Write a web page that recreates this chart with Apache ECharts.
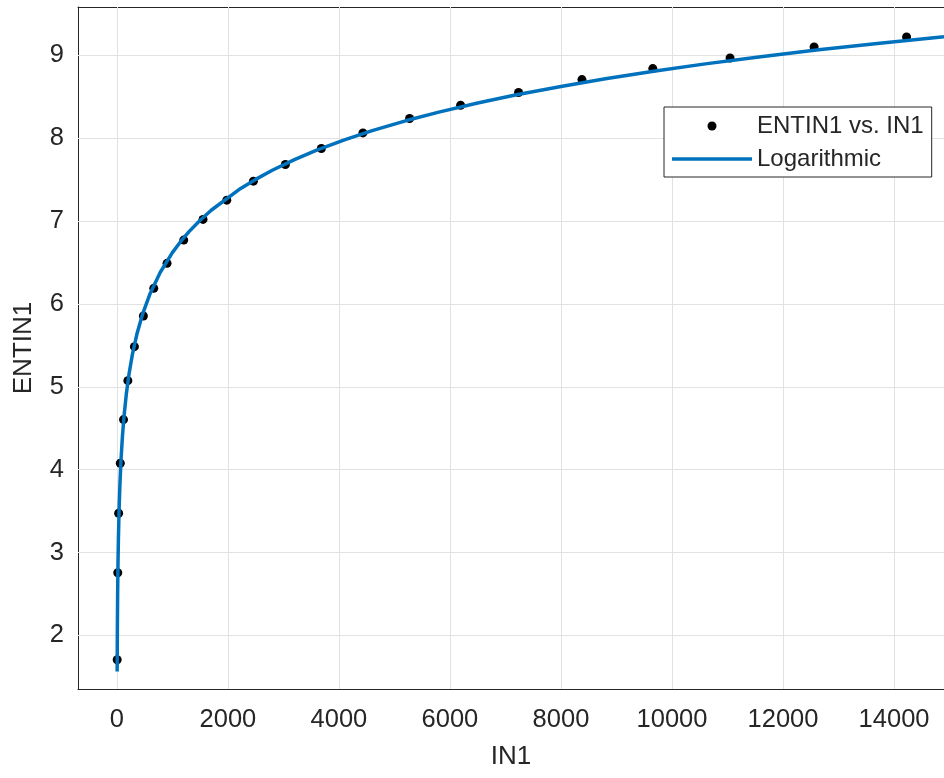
<!DOCTYPE html>
<html><head><meta charset="utf-8">
<script src="https://cdn.jsdelivr.net/npm/echarts@6/dist/echarts.min.js"></script>
<style>html,body{margin:0;padding:0;background:#fff}#c{width:944px;height:778px}</style>
</head><body><div id="c"></div>
<script>
// Data
const inX = [6, 16, 32, 62, 120, 198, 316, 478, 665, 904, 1205, 1552, 1980, 2460, 3036, 3684, 4432, 5273, 6192, 7236, 8378, 9654, 11046, 12560, 14226];
const entin1 = [1.707, 2.756, 3.475, 4.078, 4.604, 5.074, 5.484, 5.854, 6.188, 6.489, 6.770, 7.019, 7.252, 7.481, 7.682, 7.875, 8.063, 8.237, 8.397, 8.550, 8.706, 8.839, 8.967, 9.100, 9.220];
// Logarithmic fit curve
const fitX = [5.3, 7, 10, 14, 20, 28, 40, 55, 75, 100, 130, 170, 220, 280, 360, 460, 600, 780, 1000, 1150, 1300, 1500, 1700, 2200, 2500, 2800, 3200, 3600, 4100, 4600, 5200, 5800, 6500, 7200, 8000, 8800, 9700, 10600, 11600, 12600, 13700, 14900];
const fitY = [1.564, 1.833, 2.177, 2.501, 2.845, 3.170, 3.514, 3.821, 4.120, 4.398, 4.651, 4.909, 5.158, 5.391, 5.633, 5.870, 6.126, 6.379, 6.619, 6.753, 6.872, 7.010, 7.130, 7.379, 7.502, 7.612, 7.740, 7.854, 7.979, 8.090, 8.209, 8.314, 8.424, 8.523, 8.624, 8.716, 8.810, 8.896, 8.983, 9.062, 9.143, 9.224];
const xTicks = [0, 2000, 4000, 6000, 8000, 10000, 12000, 14000];
const yTicks = [2, 3, 4, 5, 6, 7, 8, 9];
const xLim = [-700, 14900];
const yLim = [1.354, 9.582];

const FONT = 'Liberation Sans, Arial, Helvetica, sans-serif';
const TXT = '#262626';
const GRIDC = '#e2e2e2';
const BLUE = '#0072BD';

const chart = echarts.init(document.getElementById('c'), null, {renderer: 'canvas'});

function frameAxis(pos, ticks, lim) {
  return {
    type: 'value', position: pos, min: lim[0], max: lim[1],
    axisLine: {show: true, onZero: false, lineStyle: {color: TXT, width: 1}},
    axisTick: {show: true, inside: true, length: 8, customValues: ticks, lineStyle: {color: TXT, width: 1}},
    axisLabel: {show: false},
    splitLine: {show: false}
  };
}

const option = {
  animation: false,
  backgroundColor: '#fff',
  grid: {left: 78, right: -1, top: 7, bottom: 89, containLabel: false},
  xAxis: [
    {
      type: 'value', position: 'bottom', min: xLim[0], max: xLim[1],
      name: 'IN1', nameLocation: 'middle', nameGap: 55,
      nameTextStyle: {fontSize: 26, color: TXT, fontFamily: FONT},
      axisLine: {show: true, onZero: false, lineStyle: {color: TXT, width: 1}},
      axisTick: {show: true, inside: true, length: 8, customValues: xTicks, lineStyle: {color: TXT, width: 1}},
      axisLabel: {customValues: xTicks, formatter: v => String(v), fontSize: 25.5, color: TXT, fontFamily: FONT, margin: 18},
      splitLine: {show: false}
    },
    frameAxis('top', xTicks, xLim)
  ],
  yAxis: [
    {
      type: 'value', position: 'left', min: yLim[0], max: yLim[1],
      name: 'ENTIN1', nameLocation: 'middle', nameGap: 41, nameRotate: 90,
      nameTextStyle: {fontSize: 26, color: TXT, fontFamily: FONT},
      axisLine: {show: true, onZero: false, lineStyle: {color: TXT, width: 1}},
      axisTick: {show: true, inside: true, length: 8, customValues: yTicks, lineStyle: {color: TXT, width: 1}},
      axisLabel: {customValues: yTicks, formatter: v => String(v), fontSize: 25.5, color: TXT, fontFamily: FONT, margin: 14},
      splitLine: {show: false}
    },
    frameAxis('right', yTicks, yLim)
  ],
  legend: {
    orient: 'vertical', left: 664, top: 107,
    padding: [7, 8, 6, 8],
    itemWidth: 80, itemHeight: 9, itemGap: 9,
    symbolKeepAspect: true,
    backgroundColor: '#fff', borderColor: TXT, borderWidth: 1, borderRadius: 0,
    selectedMode: false,
    textStyle: {fontSize: 24, color: TXT, fontFamily: FONT},
    data: [
      {name: 'ENTIN1 vs. IN1', icon: 'circle', itemStyle: {color: '#000', opacity: 1}},
      {name: 'Logarithmic', icon: 'path://M0,0L80,0L80,3.5L0,3.5Z', itemStyle: {color: BLUE, borderWidth: 0}, lineStyle: {width: 0}}
    ]
  },
  series: [
    {
      name: 'ENTIN1 vs. IN1', type: 'scatter', xAxisIndex: 0, yAxisIndex: 0,
      symbol: 'circle', symbolSize: 9,
      itemStyle: {color: '#000', opacity: 1},
      data: inX.map((x, i) => [x, entin1[i]]),
      z: 3,
      markLine: {
        silent: true, z: 1, symbol: ['none', 'none'],
        label: {show: false},
        lineStyle: {color: GRIDC, width: 1, type: 'solid'},
        emphasis: {disabled: true},
        data: xTicks.map(v => ({xAxis: v})).concat(yTicks.map(v => ({yAxis: v})))
      }
    },
    {
      name: 'Logarithmic', type: 'line', xAxisIndex: 0, yAxisIndex: 0,
      symbol: 'none', showSymbol: false, smooth: false,
      lineStyle: {color: BLUE, width: 3.5, join: 'round', cap: 'butt'},
      itemStyle: {color: BLUE},
      data: fitX.map((x, i) => [x, fitY[i]]),
      z: 4
    }
  ]
};
chart.setOption(option);
</script>
</body></html>
